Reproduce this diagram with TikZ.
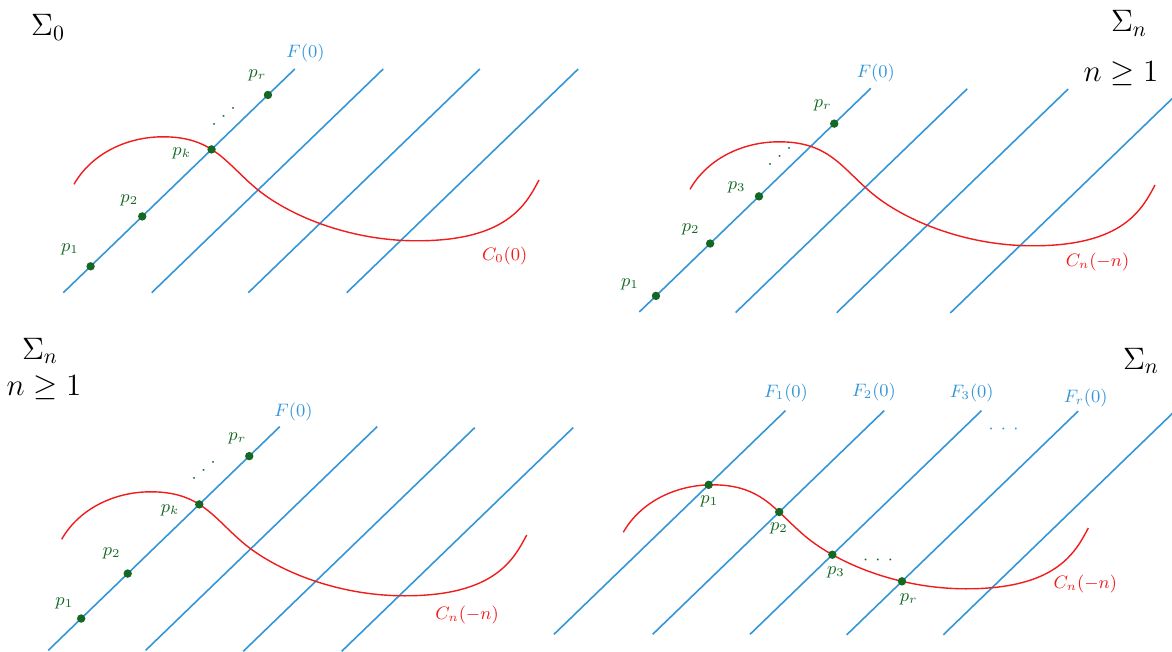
\RequirePackage{fix-cm}
\documentclass[tikz,border=0pt]{standalone}
\usetikzlibrary{intersections,calc}
\definecolor{fblue}{RGB}{52,150,215}
\definecolor{pgreen}{RGB}{20,104,36}
\definecolor{cred}{RGB}{240,28,28}
\tikzset{
  fline/.style={fblue, line width=0.8pt},
  ccurve/.style={cred, line width=0.7pt},
  pdot/.style={circle, fill=pgreen, draw=none, inner sep=0pt, minimum size=4.2pt},
  blab/.style={text=fblue, inner sep=0pt, font=\fontsize{9}{11}\selectfont},
  glab/.style={text=pgreen, inner sep=0pt, font=\fontsize{9}{11}\selectfont},
  rlab/.style={text=cred, inner sep=0pt, font=\fontsize{9}{11}\selectfont},
  big/.style={text=black, inner sep=0pt, font=\fontsize{15.5}{18}\selectfont},
}
\begin{document}
\begin{tikzpicture}[x=0.5pt, y=-0.5pt]
\useasboundingbox (0,0) rectangle (1172,652);
\clip (0,0) rectangle (1172,652);

% ---------------- Panel 1 : Sigma_0 ----------------
\coordinate (A1b) at (63.3,292.7);  \coordinate (A1t) at (294.8,69);
\coordinate (A2b) at (151.7,292.7); \coordinate (A2t) at (383.2,69);
\coordinate (A3b) at (248.3,292.7); \coordinate (A3t) at (479.8,69);
\coordinate (A4b) at (346.7,292.7); \coordinate (A4t) at (578.2,69);
\draw[fline, name path=la1] (A1b) -- (A1t);
\draw[fline] (A2b) -- (A2t);
\draw[fline] (A3b) -- (A3t);
\draw[fline] (A4b) -- (A4t);
\draw[ccurve, name path=ca, shift={(74,184.3)}] (0,0) .. controls (17,-30) and (52,-47.5) .. (89,-47.5) .. controls (139,-47.5) and (151.4,-21.7) .. (182,4) .. controls (212.6,29.7) and (273,56.5) .. (343,56.5) .. controls (433,56.5) and (451.9,20.4) .. (465,-4.3);
\path[name intersections={of=la1 and ca, by=Xa}];
\node[pdot] (Pa1) at ($(A1b)!0.118!(A1t)$) {};
\node[pdot] (Pa2) at ($(A1b)!0.341!(A1t)$) {};
\node[pdot] (Pak) at (Xa) {};
\node[pdot] (Par) at ($(A1b)!0.884!(A1t)$) {};
\node[glab] (La1) at (70,249.3) {$p_1$};
\node[glab] (La2) at (129.3,200) {$p_2$};
\node[glab] (Lak) at (181.7,153.3) {$p_k$};
\node[glab] (Lar) at (257.3,75) {$p_r$};
\node[glab, rotate=40] (Da) at (224,117) {$\cdotp\:\cdotp\:\cdotp$};
\node[blab] (Fa) at (305.5,53.5) {$F(0)$};
\node[rlab] (Ca) at (504.7,256) {$C_0(0)$};
\node[big] (Sa) at (48,27.5) {$\Sigma_0$};

% ---------------- Panel 2 : Sigma_n, n>=1 ----------------
\coordinate (B1b) at (639.3,312);   \coordinate (B1t) at (870.8,88.3);
\coordinate (B2b) at (735.7,312.5); \coordinate (B2t) at (967.2,88.8);
\coordinate (B3b) at (836.7,312.7); \coordinate (B3t) at (1068.2,89);
\coordinate (B4b) at (950.3,313);   \coordinate (B4t) at (1181.8,89.3);
\draw[fline] (B1b) -- (B1t);
\draw[fline] (B2b) -- (B2t);
\draw[fline] (B3b) -- (B3t);
\draw[fline] (B4b) -- (B4t);
\draw[ccurve, shift={(690,189.3)}] (0,0) .. controls (17,-30) and (52,-47.5) .. (89,-47.5) .. controls (139,-47.5) and (151.4,-21.7) .. (182,4) .. controls (212.6,29.7) and (273,56.5) .. (343,56.5) .. controls (433,56.5) and (451.9,20.4) .. (465,-4.3);
\node[pdot] (Pb1) at ($(B1b)!0.072!(B1t)$) {};
\node[pdot] (Pb2) at ($(B1b)!0.306!(B1t)$) {};
\node[pdot] (Pb3) at ($(B1b)!0.517!(B1t)$) {};
\node[pdot] (Pbr) at ($(B1b)!0.842!(B1t)$) {};
\node[glab] (Lb1) at (630,284.3) {$p_1$};
\node[glab] (Lb2) at (690.7,229.3) {$p_2$};
\node[glab] (Lb3) at (736.7,187.3) {$p_3$};
\node[glab] (Lbr) at (822.7,105) {$p_r$};
\node[glab, rotate=40] (Db) at (780,157) {$\cdotp\:\cdotp\:\cdotp$};
\node[blab] (Fb) at (875.8,73) {$F(0)$};
\node[rlab] (Cb) at (1097.5,262.5) {$C_n(-n)$};
\node[big] (Sb) at (1129,23.5) {$\Sigma_n$};
\node[big] (Nb) at (1121,74) {$n\geq 1$};

% ---------------- Panel 3 : Sigma_n, n>=1 ----------------
\coordinate (C1b) at (48.3,650.3);  \coordinate (C1t) at (279.8,426.6);
\coordinate (C2b) at (145.7,650.3); \coordinate (C2t) at (377.2,426.6);
\coordinate (C3b) at (243.3,651.3); \coordinate (C3t) at (474.8,427.6);
\coordinate (C4b) at (341.7,651.3); \coordinate (C4t) at (573.2,427.6);
\draw[fline, name path=lc1] (C1b) -- (C1t);
\draw[fline] (C2b) -- (C2t);
\draw[fline] (C3b) -- (C3t);
\draw[fline] (C4b) -- (C4t);
\draw[ccurve, name path=cc, shift={(61.7,539.3)}] (0,0) .. controls (17,-30) and (52,-47.5) .. (89,-47.5) .. controls (139,-47.5) and (151.4,-21.7) .. (182,4) .. controls (212.6,29.7) and (273,56.5) .. (343,56.5) .. controls (433,56.5) and (451.9,20.4) .. (465,-4.3);
\path[name intersections={of=lc1 and cc, by=Xc}];
\node[pdot] (Pc1) at ($(C1b)!0.142!(C1t)$) {};
\node[pdot] (Pc2) at ($(C1b)!0.343!(C1t)$) {};
\node[pdot] (Pck) at (Xc) {};
\node[pdot] (Pcr) at ($(C1b)!0.868!(C1t)$) {};
\node[glab] (Lc1) at (64.3,603.3) {$p_1$};
\node[glab] (Lc2) at (111.7,553.3) {$p_2$};
\node[glab] (Lck) at (170,510) {$p_k$};
\node[glab] (Lcr) at (237.3,438.3) {$p_r$};
\node[glab, rotate=40] (Dc) at (204,471) {$\cdotp\:\cdotp\:\cdotp$};
\node[blab] (Fc) at (293.5,412) {$F(0)$};
\node[rlab] (Cc) at (467,615) {$C_n(-n)$};
\node[big] (Sc) at (40,351) {$\Sigma_n$};
\node[big] (Nc) at (44,388) {$n\geq 1$};

% ---------------- Panel 4 : Sigma_n ----------------
\coordinate (D1b) at (554,634.3);   \coordinate (D1t) at (785.5,410.6);
\coordinate (D2b) at (652.7,634.3); \coordinate (D2t) at (884.2,410.6);
\coordinate (D3b) at (750,634.3);   \coordinate (D3t) at (981.5,410.6);
\coordinate (D4b) at (846.7,634.8); \coordinate (D4t) at (1078.2,411.1);
\coordinate (D5b) at (943.3,634.8); \coordinate (D5t) at (1174.8,411.1);
\draw[fline, name path=ld1] (D1b) -- (D1t);
\draw[fline, name path=ld2] (D2b) -- (D2t);
\draw[fline, name path=ld3] (D3b) -- (D3t);
\draw[fline, name path=ld4] (D4b) -- (D4t);
\draw[fline] (D5b) -- (D5t);
\draw[ccurve, name path=cd, shift={(623.3,532.3)}] (0,0) .. controls (17,-30) and (52,-47.5) .. (89,-47.5) .. controls (139,-47.5) and (151.4,-21.7) .. (182,4) .. controls (212.6,29.7) and (273,56.5) .. (343,56.5) .. controls (433,56.5) and (451.9,20.4) .. (465,-4.3);
\path[name intersections={of=ld1 and cd, by=Xd1}];
\path[name intersections={of=ld2 and cd, by=Xd2}];
\path[name intersections={of=ld3 and cd, by=Xd3}];
\path[name intersections={of=ld4 and cd, by=Xd4}];
\node[pdot] (Pd1) at (Xd1) {};
\node[pdot] (Pd2) at (Xd2) {};
\node[pdot] (Pd3) at (Xd3) {};
\node[pdot] (Pdr) at (Xd4) {};
\node[glab] (Ld1) at (709.3,501.7) {$p_1$};
\node[glab] (Ld2) at (779,528.3) {$p_2$};
\node[glab] (Ld3) at (836,572.7) {$p_3$};
\node[glab] (Ldr) at (908.7,599.3) {$p_r$};
\node[glab] (Dd) at (878,560) {$\cdotp\:\cdotp\:\cdotp$};
\node[blab] (Dbl) at (1003.5,429) {$\cdotp\:\cdotp\:\cdotp$};
\node[blab] (Fd1) at (786,393) {$F_1(0)$};
\node[blab] (Fd2) at (874,392) {$F_2(0)$};
\node[blab] (Fd3) at (971.8,393) {$F_3(0)$};
\node[blab] (Fdr) at (1085.7,398) {$F_r(0)$};
\node[rlab] (Cd) at (1085.3,584) {$C_n(-n)$};
\node[big] (Sd) at (1141,361) {$\Sigma_n$};
\end{tikzpicture}
\end{document}
